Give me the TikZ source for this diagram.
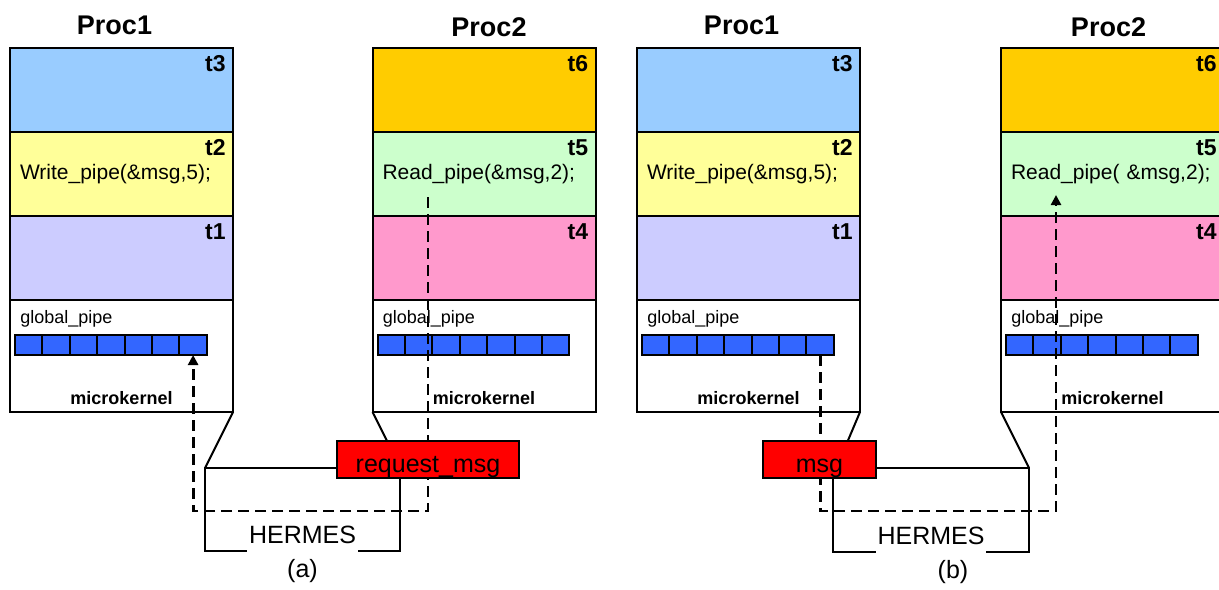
\documentclass[tikz,border=0pt]{standalone}
\usepackage{fontspec}
\setmainfont{Liberation Sans}
\definecolor{tthree}{HTML}{99CCFF}
\definecolor{ttwo}{HTML}{FFFF99}
\definecolor{tone}{HTML}{CCCCFF}
\definecolor{tsix}{HTML}{FFCC00}
\definecolor{tfive}{HTML}{CCFFCC}
\definecolor{tfour}{HTML}{FF99CC}
\definecolor{pipeblue}{HTML}{3366FF}
\usetikzlibrary{positioning,arrows.meta,calc}

\begin{document}
\begin{tikzpicture}[x=0.5pt,y=-0.5pt,
    row/.style={draw,line width=1pt,minimum width=111.5pt,minimum height=42pt,inner sep=0pt,outer sep=0pt},
    tid/.style={anchor=north east,inner sep=3.5pt,font=\bfseries\fontsize{11.5}{13}\selectfont},
    call/.style={text width=101.5pt,align=left,font=\fontsize{10.5}{12}\selectfont},
    kern/.style={row,fill=white,minimum height=56pt,
      label={[anchor=north west,inner sep=5pt,font=\fontsize{9}{11}\selectfont]north west:global\_pipe},
      label={[anchor=south,inner sep=3.5pt,font=\bfseries\fontsize{9}{11}\selectfont]south:microkernel}},
    cell/.style={draw,line width=1pt,fill=pipeblue,minimum width=13.7pt,minimum height=10pt,inner sep=0pt,outer sep=0pt},
    title/.style={inner sep=0pt,font=\bfseries\fontsize{13.5}{16}\selectfont},
    hbox/.style={draw,line width=1pt,inner sep=0pt,outer sep=0pt},
    msgbox/.style={draw,line width=1pt,fill=red,text height=15.5pt,text depth=3pt,inner sep=0pt,outer sep=0pt,font=\fontsize{12.5}{15}\selectfont},
    wire/.style={line width=1pt},
    hermes/.style={fill=white,inner xsep=1pt,inner ysep=4.5pt,font=\fontsize{12.5}{15}\selectfont},
    subcap/.style={inner sep=4pt,font=\fontsize{12.5}{15}\selectfont},
    flow/.style={line width=1.4pt,dash pattern=on 5.5pt off 3pt,-{Triangle[length=5pt,width=5pt]}}]
  \useasboundingbox (0,0) rectangle (1219,589);
  \clip (0,0) rectangle (1219,589);

  % (a) Proc1
  \node[row,fill=tthree,label={[tid]north east:t3}] (a1t3) at (121.5,90) {};
  \node[row,fill=ttwo,call,label={[tid]north east:t2},below=0pt of a1t3] (a1t2) {Write\_pipe(\&msg,5);};
  \node[row,fill=tone,label={[tid]north east:t1},below=0pt of a1t2] (a1t1) {};
  \node[kern,below=0pt of a1t1] (k-a1) {};
  \node[title,above=6.5pt of a1t3,xshift=-3.5pt] (p1-a) {Proc1};
  % (a) Proc2
  \node[row,fill=tsix,label={[tid]north east:t6}] (a2t6) at (484,90) {};
  \node[row,fill=tfive,call,label={[tid]north east:t5},below=0pt of a2t6] (a2t5) {Read\_pipe(\&msg,2);};
  \node[row,fill=tfour,label={[tid]north east:t4},below=0pt of a2t5] (a2t4) {};
  \node[kern,below=0pt of a2t4] (k-a2) {};
  \node[title,above=5.5pt of a2t6,xshift=2.5pt] (p2-a) {Proc2};
  % (b) Proc1
  \node[row,fill=tthree,label={[tid]north east:t3}] (b1t3) at (748.5,90) {};
  \node[row,fill=ttwo,call,label={[tid]north east:t2},below=0pt of b1t3] (b1t2) {Write\_pipe(\&msg,5);};
  \node[row,fill=tone,label={[tid]north east:t1},below=0pt of b1t2] (b1t1) {};
  \node[kern,below=0pt of b1t1] (k-b1) {};
  \node[title,above=6.5pt of b1t3,xshift=-3.5pt] (p1-b) {Proc1};
  % (b) Proc2
  \node[row,fill=tsix,label={[tid]north east:t6}] (b2t6) at (1112.5,90) {};
  \node[row,fill=tfive,call,label={[tid]north east:t5},below=0pt of b2t6] (b2t5) {Read\_pipe( \&msg,2);};
  \node[row,fill=tfour,label={[tid]north east:t4},below=0pt of b2t5] (b2t4) {};
  \node[kern,below=0pt of b2t4] (k-b2) {};
  \node[title,above=5.5pt of b2t6,xshift=-2pt] (p2-b) {Proc2};

  % pipes
  \foreach \k in {a1,a2,b1,b2}
    \foreach \i in {0,...,6}
      \node[cell] (\k-c\i) at ($(k-\k.north west)+({9.35pt+\i*13.7pt},-22.5pt)$) {};

  % message paths
  \coordinate (rd-a) at (428,197);
  \coordinate (low-a) at (300,511);
  \draw[flow] (rd-a) -- (rd-a |- low-a) -| (a1-c6.south);
  \coordinate (rd-b) at (1056,195);
  \coordinate (low-b) at (930,511);
  \draw[flow] (b1-c6.south) -- (b1-c6.south |- low-b) -| (rd-b);

  % HERMES (a)
  \node[hbox,minimum width=97.5pt,minimum height=41.5pt] (hm-a) at (302.5,509.5) {};
  \node[msgbox,minimum width=91pt] (req-a) at (428,459.5) {request\_msg};
  \draw[wire] (k-a1.south east) -- (hm-a.north west);
  \draw[wire] (k-a2.south west) -- ($(req-a.north west)!0.275!(req-a.north east)$);
  \node[hermes,anchor=south] (hl-a) at ([yshift=-1pt]hm-a.south) {HERMES};
  \node[subcap,below=0pt of hm-a] (cap-a) {(a)};

  % HERMES (b)
  \node[hbox,minimum width=98pt,minimum height=42pt] (hm-b) at (931,510) {};
  \node[msgbox,minimum width=56.5pt] (req-b) at (819.5,459.5) {msg};
  \draw[wire] (k-b1.south east) -- ($(req-b.north west)!0.75!(req-b.north east)$);
  \draw[wire] (k-b2.south west) -- (hm-b.north east);
  \node[hermes,anchor=south] (hl-b) at ([yshift=-1pt]hm-b.south) {HERMES};
  \node[subcap,below=0pt of hm-b,xshift=11pt] (cap-b) {(b)};
\end{tikzpicture}
\end{document}
